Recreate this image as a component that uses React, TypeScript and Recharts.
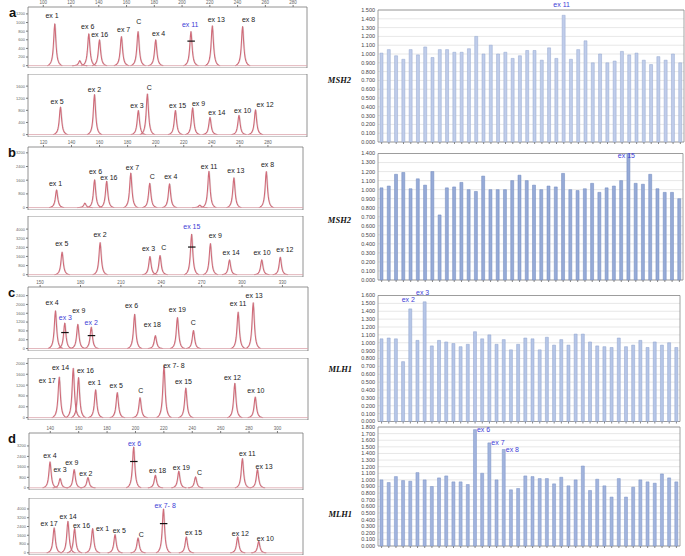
import {
  BarChart,
  Bar,
  ComposedChart,
  XAxis,
  YAxis,
  CartesianGrid,
  ReferenceLine,
  LabelList,
} from "recharts";

const SANS = "'Liberation Sans', Arial, sans-serif";
const SERIF = "'Liberation Serif', 'Times New Roman', serif";
const BLUE = "#3d3dd6";

// ================= ELECTROPHEROGRAMS (size in bp, height in RFU) =================
const A_SIZE_TICKS = [100, 120, 140, 160, 180, 200, 220, 240, 260, 280];
const B_SIZE_TICKS = [120, 140, 160, 180, 200, 220, 240, 260, 280];
const C_SIZE_TICKS = [150, 180, 210, 240, 270, 300, 330];
const D_SIZE_TICKS = [140, 160, 180, 200, 220, 240, 260, 280, 300];

const A1_LABELS = ["ex 1", "", "ex 6", "ex 16", "ex 7", "C", "ex 4", "ex 11", "ex 13", "ex 8"];
const A1_SIZE = [107.9, 125.9, 132.4, 140.1, 155.9, 167.9, 180.6, 206.0, 221.4, 243.2];
const A1_RFU = [968, 115, 738, 599, 675, 791, 599, 791, 922, 906];
const A1_MARKS: Record<string, number> = { "ex 11": 569 };

const A2_LABELS = ["ex 5", "ex 2", "ex 3", "C", "ex 15", "ex 9", "ex 14", "ex 10", "ex 12"];
const A2_SIZE = [112.0, 136.5, 168.1, 174.6, 194.8, 207.2, 219.7, 240.6, 252.5];
const A2_RFU = [910, 1319, 797, 1342, 797, 886, 569, 637, 818];

const B1_LABELS = ["ex 1", "", "ex 6", "ex 16", "ex 7", "C", "ex 4", "", "ex 11", "ex 13", "ex 8"];
const B1_SIZE = [129.0, 149.2, 156.1, 164.7, 181.9, 195.4, 209.5, 231.1, 237.6, 255.4, 278.5];
const B1_RFU = [1032, 261, 1625, 1542, 2016, 1423, 1388, 142, 2117, 1743, 2099];

const B2_LABELS = ["ex 5", "ex 2", "ex 3", "C", "ex 15", "ex 9", "ex 14", "ex 10", "ex 12"];
const B2_SIZE = [133.3, 160.4, 195.9, 203.1, 225.6, 239.0, 252.6, 275.6, 288.8];
const B2_RFU = [1980, 2815, 1598, 1687, 3552, 2726, 1305, 1305, 1536];
const B2_MARKS: Record<string, number> = { "ex 15": 2424 };

const C1_LABELS = ["ex 4", "ex 3", "ex 9", "ex 2", "ex 6", "ex 18", "ex 19", "C", "ex 11", "ex 13"];
const C1_SIZE = [161.1, 168.0, 177.7, 187.7, 219.9, 235.3, 251.7, 263.6, 296.8, 308.0];
const C1_RFU = [1709, 1155, 1095, 970, 1557, 587, 1404, 818, 1649, 2079];
const C1_MARKS: Record<string, number> = { "ex 3": 725, "ex 2": 587 };

const C2_LABELS = ["ex 17", "ex 14", "ex 16", "ex 1", "ex 5", "C", "ex 7- 8", "ex 15", "ex 12", "ex 10"];
const C2_SIZE = [163.9, 174.3, 178.2, 190.9, 207.0, 223.9, 241.7, 257.9, 294.3, 309.5];
const C2_RFU = [1498, 1819, 1476, 1029, 927, 736, 1906, 1094, 1270, 763];

const D1_LABELS = ["ex 4", "ex 3", "ex 9", "ex 2", "ex 6", "ex 18", "ex 19", "C", "ex 11", "ex 13"];
const D1_SIZE = [139.8, 146.9, 156.8, 166.5, 198.7, 214.0, 230.5, 242.3, 275.3, 285.9];
const D1_RFU = [1981, 716, 1402, 792, 3123, 967, 1272, 838, 2240, 1402];
const D1_MARKS: Record<string, number> = { "ex 6": 2011 };

const D2_LABELS = ["ex 17", "ex 14", "ex 16", "ex 1", "ex 5", "C", "ex 7- 8", "ex 15", "ex 12", "ex 10"];
const D2_SIZE = [142.9, 152.6, 157.3, 170.0, 185.8, 202.0, 219.9, 236.0, 272.2, 287.0];
const D2_RFU = [2273, 2873, 2209, 2209, 1664, 1364, 4000, 1455, 1455, 1055];
const D2_MARKS: Record<string, number> = { "ex 7- 8": 2664 };

// ================= MLPA RATIOS =================
const RATIO_TICKS_15 = [0, 0.1, 0.2, 0.3, 0.4, 0.5, 0.6, 0.7, 0.8, 0.9, 1.0, 1.1, 1.2, 1.3, 1.4, 1.5];
const RATIO_TICKS_14 = [0, 0.1, 0.2, 0.3, 0.4, 0.5, 0.6, 0.7, 0.8, 0.9, 1.0, 1.1, 1.2, 1.3, 1.4];
const RATIO_TICKS_16 = [0, 0.1, 0.2, 0.3, 0.4, 0.5, 0.6, 0.7, 0.8, 0.9, 1.0, 1.1, 1.2, 1.3, 1.4, 1.5, 1.6];
const RATIO_TICKS_18 = [0, 0.1, 0.2, 0.3, 0.4, 0.5, 0.6, 0.7, 0.8, 0.9, 1.0, 1.1, 1.2, 1.3, 1.4, 1.5, 1.6, 1.7, 1.8];

const MSH2_A = [1.01, 1.05, 0.98, 0.94, 1.05, 0.99, 1.08, 0.96, 1.05, 1.05, 1.02, 1.02, 1.06, 1.2, 1.0, 1.1, 1.0, 1.02, 0.95, 0.98, 1.04, 1.04, 0.93, 1.07, 0.95, 1.44, 0.94, 1.05, 1.15, 0.9, 1.0, 0.9, 0.92, 1.03, 0.99, 1.01, 0.93, 0.88, 0.97, 0.93, 1.0, 0.9];
const MSH2_B = [1.02, 1.04, 1.17, 1.19, 1.01, 1.12, 1.05, 1.2, 0.72, 1.02, 1.03, 1.08, 1.0, 0.98, 1.15, 1.0, 1.0, 1.0, 1.1, 1.16, 1.1, 1.05, 1.0, 1.04, 1.03, 1.18, 1.0, 0.99, 1.01, 1.07, 0.97, 1.02, 1.04, 1.1, 1.4, 1.07, 1.06, 1.17, 1.01, 0.97, 0.97, 0.9];
const MLH1_C = [1.05, 1.06, 1.05, 0.76, 1.43, 1.03, 1.52, 0.96, 1.03, 1.01, 0.99, 0.95, 0.98, 1.14, 1.05, 1.1, 0.98, 1.04, 0.91, 0.98, 1.06, 1.05, 0.91, 1.07, 0.97, 1.04, 0.97, 1.11, 1.11, 1.01, 0.96, 0.95, 0.94, 1.06, 0.95, 0.97, 1.03, 0.94, 1.01, 0.97, 1.0, 0.94];
const MLH1_D = [1.0, 0.96, 1.05, 0.99, 0.98, 1.11, 1.0, 0.9, 1.03, 1.06, 0.97, 0.97, 0.93, 1.76, 1.1, 1.56, 1.0, 1.46, 0.85, 0.87, 1.06, 1.05, 1.02, 1.02, 0.94, 1.04, 0.91, 1.0, 1.21, 0.84, 1.01, 0.91, 0.74, 1.02, 0.74, 0.89, 1.0, 0.97, 0.95, 1.09, 1.03, 0.97];

const MSH2_A_CALLOUTS = [{ probe: 26, text: "ex 11" }];
const MSH2_B_CALLOUTS = [{ probe: 35, text: "ex 15" }];
const MLH1_C_CALLOUTS = [{ probe: 5, text: "ex 2" }, { probe: 7, text: "ex 3" }];
const MLH1_D_CALLOUTS = [{ probe: 14, text: "ex 6" }, { probe: 16, text: "ex 7" }, { probe: 18, text: "ex 8" }];

// label nudges (px) relative to a peak apex
const A1_NUDGE = [[-2.7, -8], [0, 0], [-1, -7.3], [0.3, -5.7], [2.3, -6.7], [0.7, -10], [3, -6.7], [-0.7, -6.7], [4, -6.7], [6, -6.7]];
const A2_NUDGE = [[-3.3, -6], [0, -4.7], [-1.3, -5.3], [2, -6.7], [2.3, -5], [6, -4], [7, -5], [3.7, -5], [9.7, -5.3]];
const B1_NUDGE = [[-1, -6.7], [0, 0], [1, -8.7], [2.3, -4], [1.7, -5.3], [2.7, -6.7], [1.3, -7.3], [0, 0], [0.3, -5.3], [2, -7.3], [1.3, -7]];
const B2_NUDGE = [[-0.3, -8.3], [0, -8.3], [-1.3, -7.7], [3.7, -7.7], [0.3, -8], [5, -7.7], [1.7, -7.3], [0.3, -7], [4.7, -7.7]];
const C1_NUDGE = [[-3.3, -8], [0.7, -5.3], [1, -14], [0, -4.7], [-3, -8.7], [-3, -11], [0, -8], [0, -8], [0, -8.7], [1, -7]];
const C2_NUDGE = [[-12, 3.3], [-12.7, -1], [7, -6.7], [-1, -7.3], [-1, -7.3], [0.7, -6.7], [10, 0], [-2.3, -6.7], [-2.3, -5.3], [0.7, -6]];
const D1_NUDGE = [[0, -6], [0, -9], [-2.3, -7], [-2, -4], [1, -3.3], [2.3, -4.3], [2.7, -3.3], [4, -4.3], [5, -5], [6.7, -2.7]];
const D2_NUDGE = [[-5, -4], [0.3, -5], [7, -3.3], [10, 0], [4.3, -4], [3.3, -3.3], [1.7, -3.7], [7.3, -4], [2.7, -3.7], [6.7, -2.7]];

const AXIS_H = 7;

// ================= PEAK =================
function peakShape(nudges: number[][]) {
  // eslint-disable-next-line
  return (props: any) => {
    const { x, y, width, height, payload, index } = props;
    if (height == null || isNaN(y)) return <g />;
    const cx = x + width / 2;
    const base = y + height;
    const g = 1.4;
    const span = 7.5;
    const tail = 1 / (1 + (span / g) ** 2);
    let d = "";
    for (let t = -span; t <= span + 0.001; t += 0.5) {
      const k = (1 / (1 + (t / g) ** 2) - tail) / (1 - tail);
      d += `${d ? "L" : "M"}${(cx + t).toFixed(2)},${(base - height * k).toFixed(2)}`;
    }
    const [dx, dy] = nudges[index] || [0, -6];
    const marked = payload.mark != null;
    const my = base - (height * (payload.mark || 0)) / payload.rfu;
    return (
      <g>
        <path d={d} fill="none" stroke="#a89ca0" strokeWidth={0.6} strokeOpacity={0.6} transform="translate(0.6,0)" />
        <path d={d} fill="none" stroke="#d06b79" strokeWidth={1.1} strokeLinejoin="round" />
        {marked && (
          <line x1={cx - 3.5} x2={cx + 4} y1={my} y2={my} stroke="#111" strokeWidth={1.2} />
        )}
        {payload.label && (
          <text
            x={cx + dx}
            y={y + dy + 2.5}
            textAnchor="middle"
            fontSize={7}
            fontFamily={SANS}
            fill={marked ? BLUE : "#1a1a1a"}
          >
            {payload.label}
          </text>
        )}
      </g>
    );
  };
}

interface TraceProps {
  box: [number, number, number, number];
  domain: [number, number];
  sizeTicks?: number[];
  yMax: number;
  yTicks: number[];
  labels: string[];
  sizes: number[];
  rfu: number[];
  marks?: Record<string, number>;
  nudges: number[][];
}

function Trace({ box, domain, sizeTicks, yMax, yTicks, labels, sizes, rfu, marks = {}, nudges }: TraceProps) {
  const [x0, y0, x1, y1] = box;
  const axisH = sizeTicks ? AXIS_H : 0;
  const data = sizes.map((s, i) => ({ size: s, rfu: rfu[i], label: labels[i], mark: marks[labels[i]] }));

  return (
    <div style={{ position: "absolute", left: 0, top: y0 - axisH }}>
      <ComposedChart
        width={x1 + 1}
        height={y1 - y0 + axisH}
        data={data}
        margin={{ top: 0, right: 1, left: 0, bottom: 0 }}
      >
        <CartesianGrid
          stroke="#777"
          strokeWidth={0.8}
          horizontalCoordinatesGenerator={({ offset }: any) => [offset.top, offset.top + offset.height]}
          verticalCoordinatesGenerator={({ offset }: any) => [offset.left, offset.left + offset.width]}
        />
        <XAxis
          type="number"
          dataKey="size"
          domain={domain}
          ticks={sizeTicks}
          allowDataOverflow
          orientation="top"
          hide={!sizeTicks}
          height={AXIS_H}
          interval={0}
          axisLine={false}
          tickSize={2}
          tickMargin={1}
          tickLine={{ stroke: "#777" }}
          tick={{ fontSize: 4.5, fill: "#666", fontFamily: SANS }}
        />
        <YAxis
          type="number"
          domain={[-0.04 * yMax, yMax]}
          ticks={yTicks}
          allowDataOverflow
          width={x0}
          interval={0}
          axisLine={false}
          tickSize={2}
          tickMargin={1}
          tickLine={{ stroke: "#777" }}
          tick={{ fontSize: 4, fill: "#666", fontFamily: SANS }}
        />
        <ReferenceLine y={0} stroke="#dba3ab" strokeWidth={0.8} />
        <Bar dataKey="rfu" barSize={4} shape={peakShape(nudges)} isAnimationActive={false} />
      </ComposedChart>
    </div>
  );
}

// ================= RATIO BARS =================
interface RatioProps {
  top: number;
  height: number;
  marginTop: number;
  marginRight: number;
  values: number[];
  ticks: number[];
  fill: string;
  stroke: string;
  callouts: { probe: number; text: string }[];
  side: "above" | "right";
  calloutDy: number;
}

function RatioChart({ top, height, marginTop, marginRight, values, ticks, fill, stroke, callouts, side, calloutDy }: RatioProps) {
  const data = values.map((v, i) => ({ probe: i + 1, ratio: v }));

  return (
    <div style={{ position: "absolute", left: 330, top }}>
      <BarChart
        width={355}
        height={height}
        data={data}
        margin={{ top: marginTop, right: marginRight, left: 0, bottom: 0 }}
      >
        <CartesianGrid vertical={false} stroke="#d6d6d6" strokeWidth={0.6} />
        <CartesianGrid
          stroke="#8a8a8a"
          strokeWidth={0.8}
          horizontalCoordinatesGenerator={({ offset }: any) => [offset.top, offset.top + offset.height]}
          verticalCoordinatesGenerator={({ offset }: any) => [offset.left, offset.left + offset.width]}
        />
        <XAxis
          dataKey="probe"
          height={8}
          interval={0}
          axisLine={false}
          tickSize={2}
          tickLine={{ stroke: "#888" }}
          tickFormatter={() => ""}
        />
        <YAxis
          type="number"
          domain={[0, ticks[ticks.length - 1]]}
          ticks={ticks}
          width={48}
          interval={0}
          axisLine={false}
          tickSize={0}
          tickMargin={3}
          tickFormatter={(v: number) => v.toFixed(3)}
          tick={{ fontSize: 5.5, fill: "#444", fontFamily: SANS }}
        />
        <Bar dataKey="ratio" barSize={3} fill={fill} stroke={stroke} strokeWidth={0.5} isAnimationActive={false}>
          <LabelList
            dataKey="probe"
            content={(p: any) => {
              const c = callouts.find((k) => k.probe === p.value);
              if (!c) return null;
              const cx = p.x + p.width / 2;
              return side === "right" ? (
                <text x={cx + 2} y={p.y + calloutDy} fontSize={7} fontFamily={SANS} fill={BLUE}>
                  {c.text}
                </text>
              ) : (
                <text x={cx - 2} y={p.y + calloutDy} textAnchor="middle" fontSize={7} fontFamily={SANS} fill={BLUE}>
                  {c.text}
                </text>
              );
            }}
          />
        </Bar>
      </BarChart>
    </div>
  );
}

export default function App() {
  return (
    <div style={{ position: "absolute", left: 0, top: 0, width: 685, height: 556, background: "#fff", overflow: "hidden" }}>
      {/* ---- a ---- */}
      <Trace box={[28, 7, 307, 68]} domain={[89, 290]} sizeTicks={A_SIZE_TICKS} yMax={1360} yTicks={[0, 200, 400, 600, 800, 1000, 1200]}
        labels={A1_LABELS} sizes={A1_SIZE} rfu={A1_RFU} marks={A1_MARKS} nudges={A1_NUDGE} />
      <Trace box={[28, 74, 307, 137]} domain={[89, 290]} yMax={2000} yTicks={[0, 400, 800, 1200, 1600]}
        labels={A2_LABELS} sizes={A2_SIZE} rfu={A2_RFU} nudges={A2_NUDGE} />
      {/* ---- b ---- */}
      <Trace box={[28, 147, 303, 210]} domain={[109, 305]} sizeTicks={B_SIZE_TICKS} yMax={3540} yTicks={[0, 800, 1600, 2400, 3200]}
        labels={B1_LABELS} sizes={B1_SIZE} rfu={B1_RFU} nudges={B1_NUDGE} />
      <Trace box={[28, 216, 303, 277]} domain={[109, 305]} yMax={5150} yTicks={[0, 800, 1600, 2400, 3200, 4000]}
        labels={B2_LABELS} sizes={B2_SIZE} rfu={B2_RFU} marks={B2_MARKS} nudges={B2_NUDGE} />
      {/* ---- c ---- */}
      <Trace box={[28, 287, 308, 351]} domain={[141, 349]} sizeTicks={C_SIZE_TICKS} yMax={2790} yTicks={[0, 400, 800, 1200, 1600, 2000, 2400]}
        labels={C1_LABELS} sizes={C1_SIZE} rfu={C1_RFU} marks={C1_MARKS} nudges={C1_NUDGE} />
      <Trace box={[28, 358, 308, 420]} domain={[141, 349]} yMax={2200} yTicks={[0, 400, 800, 1200, 1600, 2000]}
        labels={C2_LABELS} sizes={C2_SIZE} rfu={C2_RFU} nudges={C2_NUDGE} />
      {/* ---- d ---- */}
      <Trace box={[29, 433, 303, 490]} domain={[125, 318]} sizeTicks={D_SIZE_TICKS} yMax={4190} yTicks={[0, 800, 1600, 2400, 3200]}
        labels={D1_LABELS} sizes={D1_SIZE} rfu={D1_RFU} marks={D1_MARKS} nudges={D1_NUDGE} />
      <Trace box={[29, 498, 303, 555]} domain={[125, 318]} yMax={5000} yTicks={[0, 800, 1600, 2400, 3200, 4000]}
        labels={D2_LABELS} sizes={D2_SIZE} rfu={D2_RFU} marks={D2_MARKS} nudges={D2_NUDGE} />

      {/* ---- ratio charts ---- */}
      <RatioChart top={0} height={150} marginTop={10} marginRight={1} values={MSH2_A} ticks={RATIO_TICKS_15}
        fill="#c0cdea" stroke="#93a6cf" callouts={MSH2_A_CALLOUTS} side="above" calloutDy={-8} />
      <RatioChart top={145} height={143} marginTop={8.5} marginRight={2} values={MSH2_B} ticks={RATIO_TICKS_14}
        fill="#97abd7" stroke="#6c86bd" callouts={MSH2_B_CALLOUTS} side="above" calloutDy={4} />
      <RatioChart top={285} height={144.5} marginTop={10.5} marginRight={5} values={MLH1_C} ticks={RATIO_TICKS_16}
        fill="#b6c6e7" stroke="#8da1cc" callouts={MLH1_C_CALLOUTS} side="above" calloutDy={-7} />
      <RatioChart top={418} height={136} marginTop={9} marginRight={5} values={MLH1_D} ticks={RATIO_TICKS_18}
        fill="#a2b4dd" stroke="#7890c4" callouts={MLH1_D_CALLOUTS} side="right" calloutDy={2.5} />

      {/* ---- panel letters & gene names ---- */}
      <svg width={685} height={556} style={{ position: "absolute", left: 0, top: 0, pointerEvents: "none" }}>
        <g fontFamily={SANS} fontWeight="bold" fontSize={13} fill="#111">
          <text x={9} y={17}>a</text>
          <text x={8} y={157}>b</text>
          <text x={8} y={297}>c</text>
          <text x={8} y={443}>d</text>
        </g>
        <g fontFamily={SERIF} fontWeight="bold" fontStyle="italic" fontSize={8.5} fill="#111" textAnchor="end">
          <text x={351} y={83}>MSH2</text>
          <text x={351} y={223}>MSH2</text>
          <text x={352} y={372}>MLH1</text>
          <text x={352} y={517}>MLH1</text>
        </g>
      </svg>
    </div>
  );
}
